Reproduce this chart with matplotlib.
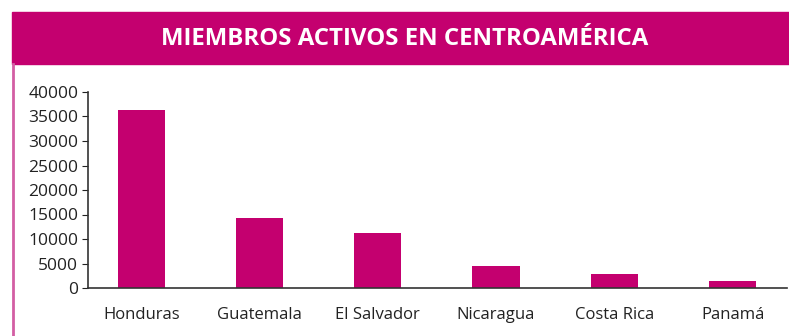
import matplotlib
matplotlib.use("Agg")
import matplotlib.pyplot as plt
from matplotlib.patches import Rectangle
from matplotlib.lines import Line2D

paises = ["Honduras", "Guatemala", "El Salvador", "Nicaragua", "Costa Rica", "Panamá"]
miembros = [36300, 14300, 11200, 4500, 2900, 1400]
yticks = [0, 5000, 10000, 15000, 20000, 25000, 30000, 35000, 40000]

magenta = "#c4006f"
plt.rcParams["font.family"] = ["Open Sans", "DejaVu Sans"]

W, H = 789, 336
fig = plt.figure(figsize=(W / 100, H / 100), dpi=100)

# banda del título y filete lateral
fig.patches.append(Rectangle((12 / W, 1 - 64 / H), 1 - 12 / W, 52 / H,
                             transform=fig.transFigure, color=magenta, zorder=0))
fig.lines.append(Line2D([12.5 / W, 12.5 / W], [0, 1 - 64 / H], transform=fig.transFigure,
                        color="#d35ea3", lw=2))
fig.text(405 / W, 1 - 39 / H, "MIEMBROS ACTIVOS EN CENTROAMÉRICA", color="white",
         fontsize=17.3, fontweight="bold", ha="center", va="center")

ax = fig.add_axes([88 / W, 48 / H, (787 - 88) / W, (288 - 92) / H])
ax.bar(range(len(paises)), miembros, width=0.4, color=magenta)
ax.set_xlim(-0.45, 5.46)
ax.set_ylim(0, 40000)
ax.set_yticks(yticks)
ax.set_xticks(range(len(paises)))
ax.set_xticklabels(paises)
ax.tick_params(axis="x", length=0, labelsize=12, pad=14, colors="#222222")
ax.tick_params(axis="y", length=4, labelsize=12.5, colors="#222222", pad=3)
for s in ["top", "right"]:
    ax.spines[s].set_visible(False)
for s in ["left", "bottom"]:
    ax.spines[s].set_color("#333333")
    ax.spines[s].set_linewidth(1.2)

fig.savefig("out.png", dpi=100)
